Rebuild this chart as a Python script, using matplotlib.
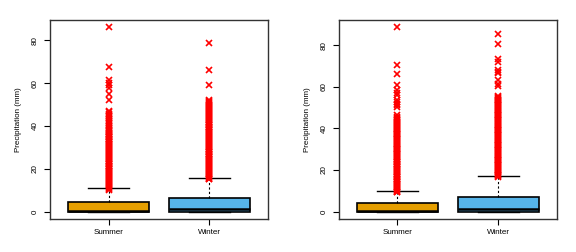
import matplotlib
matplotlib.use("Agg")
import matplotlib.pyplot as plt

plt.rcParams['font.family'] = ['Liberation Sans', 'DejaVu Sans']

categories = ["Summer", "Winter"]
colors = ["#E69F00", "#56B4E9"]

# Panel 1 box statistics: (whislo, q1, med, q3, whishi)
p1_stats = [(0.0, 0.0, 0.25, 4.35, 10.9), (0.0, 0.0, 1.4, 6.2, 15.9)]
p1_summer_fliers = [10.3, 10.7, 11.2, 11.6, 12.1, 12.5, 13.0, 13.4, 13.9, 14.3, 14.8,
                    15.2, 15.7, 16.1, 16.6, 17.0, 17.5, 17.9, 18.4, 18.8, 19.3, 19.7,
                    20.2, 20.6, 21.1, 21.5, 22.0, 22.4, 22.9, 23.3, 23.8, 24.2, 24.7,
                    25.1, 25.6, 26.0, 26.5, 26.9, 27.4, 27.8, 28.3, 28.7, 29.2, 29.6,
                    30.1, 30.5, 31.0, 31.4, 31.9, 32.3, 32.8, 33.2, 33.7, 34.1, 34.6,
                    35.0, 35.5, 35.9, 36.4, 36.8, 37.3, 37.7, 38.2, 38.6, 39.1,
                    39.9, 40.6, 41.2, 41.9, 42.5, 43.2, 43.8, 44.5, 45.1, 45.8, 46.4,
                    47.1, 52.1, 54.8, 57.6, 58.9, 60.2, 61.5, 67.5, 86.0]
p1_winter_fliers = [15.0, 15.4, 15.9, 16.3, 16.8, 17.2, 17.7, 18.1, 18.6, 19.0, 19.5,
                    19.9, 20.4, 20.8, 21.3, 21.7, 22.2, 22.6, 23.1, 23.5, 24.0, 24.4,
                    24.9, 25.3, 25.8, 26.2, 26.7, 27.1, 27.6, 28.0, 28.5, 28.9, 29.4,
                    29.8, 30.3, 30.7, 31.2, 31.6, 32.1, 32.5, 33.0, 33.4, 33.9, 34.3,
                    34.8, 35.2, 35.7, 36.1, 36.6, 37.0, 37.5, 37.9, 38.4, 38.8, 39.3,
                    39.7, 40.2, 40.6, 41.1, 41.5, 42.0, 42.4, 42.9, 43.3, 43.8, 44.2,
                    44.7, 45.1, 45.6, 46.0, 46.5, 46.9, 47.4, 47.8, 48.3, 48.7, 49.2,
                    49.6, 50.1, 50.6, 51.2, 51.8, 52.3, 59.3, 66.2, 78.5]

# Panel 2 box statistics
p2_stats = [(0.0, 0.0, 0.25, 4.0, 9.9), (0.0, 0.0, 1.45, 6.8, 17.2)]
p2_summer_fliers = [9.2, 9.6, 10.1, 10.5, 11.0, 11.4, 11.9, 12.3, 12.8, 13.2, 13.7,
                    14.1, 14.6, 15.0, 15.5, 15.9, 16.4, 16.8, 17.3, 17.7, 18.2, 18.6,
                    19.1, 19.5, 20.0, 20.4, 20.9, 21.3, 21.8, 22.2, 22.7, 23.1, 23.6,
                    24.0, 24.5, 24.9, 25.4, 25.8, 26.3, 26.7, 27.2, 27.6, 28.1, 28.5,
                    29.0, 29.4, 29.9, 30.3, 30.8, 31.2, 31.7, 32.1, 32.6, 33.0, 33.5,
                    33.9, 34.4, 34.8, 35.3, 35.7, 36.2, 36.6, 37.1, 37.5, 38.0, 38.4,
                    38.9, 39.3, 39.8, 40.2, 40.7, 41.1, 41.6, 42.0, 42.5, 42.9, 43.4,
                    43.8, 44.4, 45.0, 45.6, 46.3, 50.2, 51.0, 51.8, 52.6, 53.4, 55.8,
                    57.2, 58.3, 61.0, 66.2, 70.5, 88.5]
p2_winter_fliers = [16.5, 16.9, 17.4, 17.8, 18.3, 18.7, 19.2, 19.6, 20.1, 20.5, 21.0,
                    21.4, 21.9, 22.3, 22.8, 23.2, 23.7, 24.1, 24.6, 25.0, 25.5, 25.9,
                    26.4, 26.8, 27.3, 27.7, 28.2, 28.6, 29.1, 29.5, 30.0, 30.4, 30.9,
                    31.3, 31.8, 32.2, 32.7, 33.1, 33.6, 34.0, 34.5, 34.9, 35.4, 35.8,
                    36.3, 36.7, 37.2, 37.6, 38.1, 38.5, 39.0, 39.4, 39.9, 40.3, 40.8,
                    41.2, 41.7, 42.1, 42.6, 43.0, 43.5, 43.9, 44.4, 44.8, 45.3, 45.7,
                    46.2, 46.6, 47.1, 47.5, 48.0, 48.4, 48.9, 49.3, 49.8, 50.2, 50.7,
                    51.1, 51.6, 52.0, 52.5, 52.9, 53.4, 53.8, 54.3, 54.7, 55.2, 55.6,
                    60.5, 61.3, 63.0, 66.5, 67.2, 67.8, 72.0, 73.5, 80.3, 85.3]

yticks = [0, 20, 40, 60, 80]
ylabel = "Precipitation (mm)"

fig = plt.figure(figsize=(5.76, 2.52), dpi=100)
ax1 = fig.add_axes([50/576, 33/252, 218/576, 199/252])
ax2 = fig.add_axes([338.7/576, 33/252, 218.3/576, 199/252])


def draw(ax, stats, fliers_list, ylim):
    bstats = []
    for (lo, q1, med, q3, hi), fl, lab in zip(stats, fliers_list, categories):
        bstats.append(dict(whislo=lo, q1=q1, med=med, q3=q3, whishi=hi,
                           fliers=fl, label=lab))
    bp = ax.bxp(bstats, positions=[1, 2], widths=0.8, patch_artist=True,
                showfliers=True,
                boxprops=dict(edgecolor='black', linewidth=1.2),
                medianprops=dict(color='black', linewidth=1.8),
                whiskerprops=dict(color='black', linewidth=0.8, linestyle=(0, (2, 2))),
                capprops=dict(color='black', linewidth=1.0),
                flierprops=dict(marker='x', markeredgecolor='red',
                                markersize=4.0, markeredgewidth=1.2))
    for patch, c in zip(bp['boxes'], colors):
        patch.set_facecolor(c)
    for cap in bp['caps']:
        x = cap.get_xdata()
        c = (x[0] + x[1]) / 2
        cap.set_xdata([c - 0.2, c + 0.2])
    ax.set_xlim(0.42, 2.58)
    ax.set_ylim(*ylim)
    ax.set_yticks(yticks)
    ax.set_yticklabels([str(t) for t in yticks], rotation=90, va='center')
    ax.set_xticks([1, 2])
    ax.set_xticklabels(categories)
    ax.tick_params(labelsize=5.8, length=4, width=0.8, pad=3)
    ax.tick_params(axis='y', pad=4)
    ax.set_ylabel(ylabel, fontsize=5.8, labelpad=7)
    for s in ax.spines.values():
        s.set_linewidth(1.0)
        s.set_color('#333333')


draw(ax1, p1_stats, [p1_summer_fliers, p1_winter_fliers], (-3.44, 89.44))
draw(ax2, p2_stats, [p2_summer_fliers, p2_winter_fliers], (-3.54, 92.04))

fig.savefig("out.png", dpi=100)
